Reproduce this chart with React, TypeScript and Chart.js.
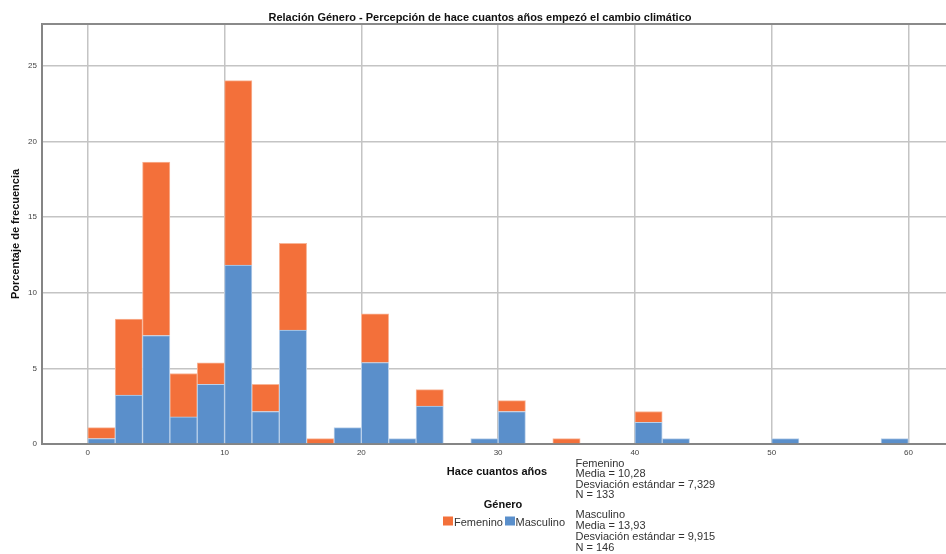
import { useEffect, useRef } from "react";
import { Chart, registerables } from "chart.js";

Chart.register(...registerables);

// Histogram bins (width 2 years), identified by their centre
const binCenters = [
  1, 3, 5, 7, 9, 11, 13, 15, 17, 19, 21, 23, 25, 27, 29,
  31, 33, 35, 37, 39, 41, 43, 45, 47, 49, 51, 53, 55, 57, 59,
];

// Percent of all respondents, per bin
const masculino = [
  0.36, 3.23, 7.17, 1.79, 3.94, 11.83, 2.15, 7.53, 0, 1.08, 5.38, 0.36, 2.51, 0, 0.36,
  2.15, 0, 0, 0, 0, 1.43, 0.36, 0, 0, 0, 0.36, 0, 0, 0, 0.36,
];
const femenino = [
  0.72, 5.02, 11.47, 2.87, 1.43, 12.19, 1.79, 5.73, 0.36, 0, 3.23, 0, 1.08, 0, 0,
  0.72, 0, 0.36, 0, 0, 0.72, 0, 0, 0, 0, 0, 0, 0, 0, 0,
];

const xTicks = [0, 10, 20, 30, 40, 50, 60];
const yTicks = [0, 5, 10, 15, 20, 25];

const chartTitle =
  "Relación Género - Percepción de hace cuantos años empezó el cambio climático";
const xTitle = "Hace cuantos años";
const yTitle = "Porcentaje de frecuencia";
const legendTitle = "Género";
const seriesNames = ["Femenino", "Masculino"];
const femeninoStats = ["Femenino", "Media = 10,28", "Desviación estándar = 7,329", "N = 133"];
const masculinoStats = ["Masculino", "Media = 13,93", "Desviación estándar = 9,915", "N = 146"];

const ORANGE = "#f3703a";
const BLUE = "#5a8fcb";
const FONT = "'Liberation Sans', Arial, sans-serif";

const toPoints = (vals: number[]) =>
  binCenters.map((x, i) => ({ x, y: vals[i] === 0 ? null : vals[i] }));

const annotations = {
  id: "annotations",
  beforeDatasetsDraw(chart: any) {
    const { ctx, chartArea } = chart;
    ctx.save();
    ctx.strokeStyle = "#8a8a8a";
    ctx.lineWidth = 2;
    ctx.beginPath();
    ctx.moveTo(chartArea.left, chartArea.top);
    ctx.lineTo(chartArea.right, chartArea.top);
    ctx.stroke();
    ctx.restore();
  },
  afterDraw(chart: any) {
    const { ctx, chartArea } = chart;
    ctx.save();
    ctx.fillStyle = "#111";
    ctx.textBaseline = "alphabetic";

    // chart title
    ctx.font = `bold 11px ${FONT}`;
    ctx.textAlign = "center";
    ctx.fillText(chartTitle, 480, 20.5);

    // y axis title
    ctx.save();
    ctx.translate(18.5, (chartArea.top + chartArea.bottom) / 2);
    ctx.rotate(-Math.PI / 2);
    ctx.fillText(yTitle, 0, 0);
    ctx.restore();

    // x axis title
    ctx.fillText(xTitle, 497, 475);

    // legend
    ctx.fillText(legendTitle, 503, 507.5);
    ctx.font = `11px ${FONT}`;
    ctx.textAlign = "left";
    ctx.fillStyle = ORANGE;
    ctx.fillRect(443, 516.5, 10, 9);
    ctx.fillStyle = BLUE;
    ctx.fillRect(505, 516.5, 10, 9);
    ctx.fillStyle = "#333";
    ctx.fillText(seriesNames[0], 454, 525.5);
    ctx.fillText(seriesNames[1], 515.5, 525.5);

    // summary statistics
    femeninoStats.forEach((t, i) => ctx.fillText(t, 575.5, 466.5 + i * 10.5));
    masculinoStats.forEach((t, i) => ctx.fillText(t, 575.5, 518 + i * 10.9));
    ctx.restore();
  },
};

export default function App() {
  const ref = useRef<HTMLCanvasElement | null>(null);

  useEffect(() => {
    if (!ref.current) return;
    const chart = new Chart(ref.current, {
      type: "bar",
      data: {
        datasets: [
          {
            label: seriesNames[1],
            data: toPoints(masculino) as any,
            backgroundColor: BLUE,
            borderColor: "#b9d0ea",
            borderWidth: { left: 1, right: 1, top: 1, bottom: 0 },
            borderSkipped: false,
            stack: "g",
          },
          {
            label: seriesNames[0],
            data: toPoints(femenino) as any,
            backgroundColor: ORANGE,
            borderColor: "#f8b597",
            borderWidth: { left: 1, right: 1, top: 1, bottom: 0 },
            borderSkipped: false,
            stack: "g",
          },
        ],
      },
      options: {
        responsive: false,
        animation: false,
        devicePixelRatio: 1,
        layout: { padding: { left: 0, top: 24, right: 0, bottom: 90 } },
        datasets: { bar: { barPercentage: 1, categoryPercentage: 1 } },
        plugins: {
          legend: { display: false },
          title: { display: false },
          tooltip: { enabled: false },
        },
        scales: {
          x: {
            type: "linear",
            stacked: true,
            min: -3.35,
            max: 62.75,
            offset: false,
            afterBuildTicks: (s: any) => {
              s.ticks = xTicks.map((v) => ({ value: v }));
            },
            afterFit: (s: any) => {
              s.height = 20;
            },
            ticks: {
              includeBounds: false,
              padding: 4,
              color: "#444",
              font: { family: FONT, size: 8 },
              maxRotation: 0,
            },
            grid: { color: "#c4c4c4", lineWidth: 1.5, drawTicks: false, offset: false },
            border: { display: true, color: "#858585", width: 2 },
          },
          y: {
            stacked: true,
            min: 0,
            max: 27.76,
            afterBuildTicks: (s: any) => {
              s.ticks = yTicks.map((v) => ({ value: v }));
            },
            afterFit: (s: any) => {
              s.width = 42;
            },
            ticks: {
              includeBounds: false,
              padding: 5,
              color: "#444",
              font: { family: FONT, size: 8 },
            },
            grid: { color: "#c4c4c4", lineWidth: 1.5, drawTicks: false },
            border: { display: true, color: "#858585", width: 2 },
          },
        },
      },
      plugins: [annotations],
    });
    return () => chart.destroy();
  }, []);

  return (
    <div style={{ position: "absolute", left: 0, top: 0, width: 946, height: 554, background: "#fff" }}>
      <canvas ref={ref} width={946} height={554} style={{ display: "block" }} />
    </div>
  );
}
